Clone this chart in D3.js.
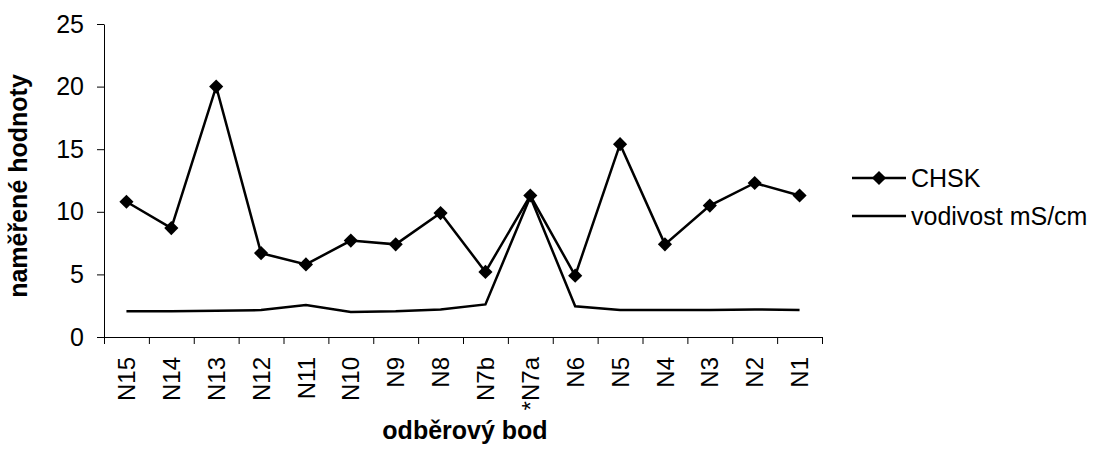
<!DOCTYPE html>
<html>
<head>
<meta charset="utf-8">
<script src="https://cdn.jsdelivr.net/npm/d3@7"></script>
<style>
  html, body { margin: 0; padding: 0; background: #fff; }
  svg { display: block; font-family: "Liberation Sans", Arial, sans-serif; }
</style>
</head>
<body>
<svg id="chart" width="1098" height="450"></svg>
<script>
// Sampling points along the stream, upstream to downstream
const categories = ["N15", "N14", "N13", "N12", "N11", "N10", "N9", "N8", "N7b", "*N7a", "N6", "N5", "N4", "N3", "N2", "N1"];
// Chemical oxygen demand (CHSK)
const chskValues = [10.8, 8.7, 20, 6.7, 5.8, 7.7, 7.4, 9.9, 5.2, 11.3, 4.9, 15.4, 7.4, 10.5, 12.3, 11.3];
// Conductivity in mS/cm
const vodivostValues = [2.05, 2.05, 2.1, 2.15, 2.55, 2.0, 2.05, 2.2, 2.6, 11.2, 2.45, 2.15, 2.15, 2.15, 2.2, 2.15];
const yTicks = [0, 5, 10, 15, 20, 25];
const seriesNames = ["CHSK", "vodivost mS/cm"];

const svg = d3.select("#chart");
const plotLeft = 104, plotRight = 822, plotTop = 24, plotBottom = 337;

// Category slots: integer positions are the slot boundaries (tick marks)
const x = d3.scaleLinear().domain([0, categories.length]).range([plotLeft, plotRight]);
const y = d3.scaleLinear().domain([0, 25]).range([plotBottom, plotTop]);

// Y axis
const yAxis = svg.append("g")
  .attr("transform", `translate(${plotLeft},0)`)
  .call(d3.axisLeft(y).tickValues(yTicks).tickSize(7).tickPadding(13).tickSizeOuter(0));
yAxis.select(".domain").attr("stroke", "#000").attr("stroke-width", 1);
yAxis.selectAll(".tick line").attr("stroke", "#000");
yAxis.selectAll(".tick text")
  .attr("font-size", 25)
  .attr("fill", "#000")
  .attr("font-family", "Liberation Sans, Arial, sans-serif");

// X axis with ticks between categories
const xAxis = svg.append("g")
  .attr("transform", `translate(0,${plotBottom})`)
  .call(d3.axisBottom(x).tickValues(d3.range(categories.length + 1)).tickSize(7).tickFormat("").tickSizeOuter(0));
xAxis.select(".domain").attr("stroke", "#000").attr("stroke-width", 1);
xAxis.selectAll(".tick line").attr("stroke", "#000");

// Rotated category labels
svg.append("g").selectAll("text")
  .data(categories)
  .join("text")
  .attr("transform", (d, i) => `translate(${x(i + 0.5)},357) rotate(-90)`)
  .attr("text-anchor", "end")
  .attr("dy", "0.36em")
  .attr("font-size", 24)
  .attr("fill", "#000")
  .text(d => d);

const cx = (d, i) => x(i + 0.5);
const line = d3.line().x(cx).y(d => y(d));

// Conductivity line
svg.append("path")
  .datum(vodivostValues)
  .attr("fill", "none")
  .attr("stroke", "#000")
  .attr("stroke-width", 2.5)
  .attr("d", line);

// CHSK line with diamond markers
svg.append("path")
  .datum(chskValues)
  .attr("fill", "none")
  .attr("stroke", "#000")
  .attr("stroke-width", 2.5)
  .attr("d", line);

const diamond = d3.symbol().type(d3.symbolDiamond2).size(128);
svg.append("g").selectAll("path")
  .data(chskValues)
  .join("path")
  .attr("transform", (d, i) => `translate(${cx(d, i)},${y(d)})`)
  .attr("d", diamond)
  .attr("fill", "#000");

// Axis titles
svg.append("text")
  .attr("transform", `translate(27,186) rotate(-90)`)
  .attr("text-anchor", "middle")
  .attr("font-size", 25)
  .attr("font-weight", "bold")
  .attr("fill", "#000")
  .text("naměřené hodnoty");

svg.append("text")
  .attr("x", (plotLeft + plotRight) / 2 + 2)
  .attr("y", 439)
  .attr("text-anchor", "middle")
  .attr("font-size", 25)
  .attr("font-weight", "bold")
  .attr("fill", "#000")
  .text("odběrový bod");

// Legend
const legend = svg.append("g");
const legendY = [178, 216];
seriesNames.forEach((name, i) => {
  legend.append("line")
    .attr("x1", 852).attr("x2", 906)
    .attr("y1", legendY[i]).attr("y2", legendY[i])
    .attr("stroke", "#000").attr("stroke-width", 2.5);
  if (i === 0) {
    legend.append("path")
      .attr("transform", `translate(879,${legendY[i]})`)
      .attr("d", diamond)
      .attr("fill", "#000");
  }
  legend.append("text")
    .attr("x", 911)
    .attr("y", legendY[i])
    .attr("dy", "0.36em")
    .attr("font-size", 25)
    .attr("fill", "#000")
    .text(name);
});
</script>
</body>
</html>
